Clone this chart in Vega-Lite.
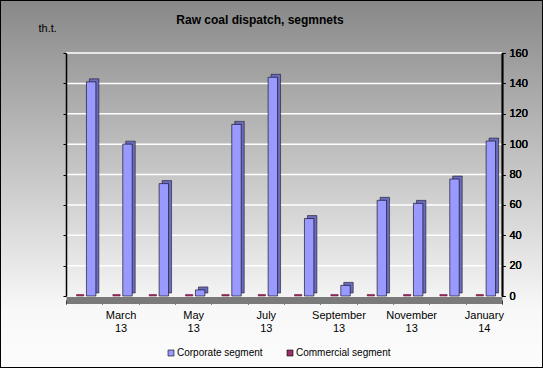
{
  "$schema": "https://vega.github.io/schema/vega-lite/v6.json",
  "width": 436,
  "height": 243,
  "autosize": {"type": "none"},
  "padding": {"left": 66, "top": 53, "right": 41, "bottom": 72},
  "background": "#c8c8c8",
  "config": {
    "font": "Liberation Sans",
    "view": {"stroke": null},
    "axis": {"labelFont": "Liberation Sans", "titleFont": "Liberation Sans", "labelColor": "#000", "titleColor": "#000"},
    "legend": {
      "orient": "none",
      "legendX": 100,
      "legendY": 295,
      "direction": "horizontal",
      "title": null,
      "symbolType": "square",
      "symbolSize": 36,
      "symbolStrokeColor": "#000",
      "symbolStrokeWidth": 0.6,
      "labelFont": "Liberation Sans",
      "labelFontSize": 10,
      "labelColor": "#000",
      "labelOffset": 1,
      "columnPadding": 22
    }
  },
  "title": {
    "text": "Raw coal dispatch, segmnets",
    "font": "Liberation Sans",
    "fontSize": 12,
    "fontWeight": "bold",
    "color": "#000",
    "anchor": "middle",
    "frame": "group",
    "dx": -24,
    "offset": -37,
    "baseline": "alphabetic"
  },
  "datasets": {
    "coal": [
      {"month": "February 13", "segment": "Corporate segment", "value": 141},
      {"month": "March 13", "segment": "Corporate segment", "value": 100},
      {"month": "April 13", "segment": "Corporate segment", "value": 74},
      {"month": "May 13", "segment": "Corporate segment", "value": 4},
      {"month": "June 13", "segment": "Corporate segment", "value": 113},
      {"month": "July 13", "segment": "Corporate segment", "value": 144},
      {"month": "August 13", "segment": "Corporate segment", "value": 51},
      {"month": "September 13", "segment": "Corporate segment", "value": 7},
      {"month": "October 13", "segment": "Corporate segment", "value": 63},
      {"month": "November 13", "segment": "Corporate segment", "value": 61},
      {"month": "December 13", "segment": "Corporate segment", "value": 77},
      {"month": "January 14", "segment": "Corporate segment", "value": 102},
      {"month": "February 13", "segment": "Commercial segment", "value": 1},
      {"month": "March 13", "segment": "Commercial segment", "value": 1},
      {"month": "April 13", "segment": "Commercial segment", "value": 1},
      {"month": "May 13", "segment": "Commercial segment", "value": 1},
      {"month": "June 13", "segment": "Commercial segment", "value": 1},
      {"month": "July 13", "segment": "Commercial segment", "value": 1},
      {"month": "August 13", "segment": "Commercial segment", "value": 1},
      {"month": "September 13", "segment": "Commercial segment", "value": 1},
      {"month": "October 13", "segment": "Commercial segment", "value": 1},
      {"month": "November 13", "segment": "Commercial segment", "value": 1},
      {"month": "December 13", "segment": "Commercial segment", "value": 1},
      {"month": "January 14", "segment": "Commercial segment", "value": 1}
    ],
    "grid": [{"g": 20}, {"g": 40}, {"g": 60}, {"g": 80}, {"g": 100}, {"g": 120}, {"g": 140}, {"g": 160}],
    "bg": [{"lo": 0, "hi": 1}]
  },
  "layer": [
    {
      "data": {"name": "bg"},
      "mark": {
        "type": "rect",
        "stroke": "#000",
        "strokeWidth": 2,
        "color": {
          "gradient": "linear",
          "x1": 0, "y1": 0, "x2": 0, "y2": 1,
          "stops": [
            {"offset": 0, "color": "#888888"},
            {"offset": 0.84, "color": "#f8f8f8"},
            {"offset": 1, "color": "#fcfcfc"}
          ]
        }
      },
      "encoding": {
        "x": {"datum": -0.1514, "type": "quantitative", "scale": {"domain": [0, 1], "nice": false, "zero": false}, "axis": null},
        "x2": {"datum": 1.0941},
        "y": {"datum": 1.2181, "type": "quantitative", "scale": {"domain": [0, 1], "nice": false, "zero": false}, "axis": null},
        "y2": {"datum": -0.2963}
      }
    },
    {
      "layer": [
        {
          "data": {"name": "grid"},
          "mark": {"type": "rule", "color": "#ffffff", "strokeWidth": 1.5},
          "encoding": {
            "y": {
              "field": "g",
              "type": "quantitative",
              "scale": {"domain": [0, 160], "nice": false},
              "axis": {
                "orient": "left",
                "values": [0, 20, 40, 60, 80, 100, 120, 140, 160],
                "labels": false,
                "grid": false,
                "domain": true,
                "domainColor": "#000",
                "domainWidth": 1.5,
                "ticks": true,
                "tickColor": "#000",
                "tickSize": 3,
                "title": "th.t.",
                "titleAngle": 0,
                "titleAlign": "left",
                "titleBaseline": "alphabetic",
                "titleFontSize": 11,
                "titleFontWeight": "normal",
                "titleX": -28,
                "titleY": -22,
                "zindex": 1
              }
            }
          }
        },
        {
          "data": {"name": "coal"},
          "transform": [{"filter": "datum.segment === 'Commercial segment'"}],
          "mark": {"type": "bar", "width": {"band": 0.2}, "xOffset": -4, "stroke": "#66002e", "strokeWidth": 0.5},
          "encoding": {
            "x": {"field": "month", "type": "nominal",
              "scale": {"domain": ["February 13", "March 13", "April 13", "May 13", "June 13", "July 13", "August 13", "September 13", "October 13", "November 13", "December 13", "January 14"], "paddingInner": 0, "paddingOuter": 0},
              "axis": {"orient": "bottom", "title": null, "labelAngle": 0, "labelFontSize": 11, "labelLineHeight": 13, "labelPadding": 5, "labelOverlap": false, "tickBand": "extent", "tickColor": "#000", "tickSize": 4, "domainColor": "#7a7a7a", "domainWidth": 7, "offset": 4, "zindex": 1,
                "labelExpr": "indexof(['March 13','May 13','July 13','September 13','November 13','January 14'], datum.label) >= 0 ? split(datum.label, ' ') : ''"}},
            "y": {"field": "value", "type": "quantitative",
              "axis": {"orient": "right", "values": [0, 20, 40, 60, 80, 100, 120, 140, 160], "grid": false, "title": null, "labelFontSize": 11, "labelPadding": 4, "domainColor": "#000", "domainWidth": 1.5, "tickColor": "#000", "tickSize": 3, "zindex": 1}},
            "color": {"field": "segment", "type": "nominal",
              "scale": {"domain": ["Corporate segment", "Commercial segment"], "range": ["#9999ff", "#993366"]}}
          }
        },
        {
          "data": {"name": "coal"},
          "transform": [{"filter": "datum.segment === 'Corporate segment'"}],
          "mark": {"type": "bar", "width": {"band": 0.26}, "xOffset": 10, "yOffset": -3, "fill": "#6b6bbf", "stroke": "#000", "strokeWidth": 0.5},
          "encoding": {
            "x": {"field": "month", "type": "nominal",
              "axis": {"orient": "bottom", "title": null, "labelAngle": 0, "labelFontSize": 11, "labelLineHeight": 13, "labelPadding": 5, "labelOverlap": false, "tickBand": "extent", "tickColor": "#000", "tickSize": 4, "domainColor": "#7a7a7a", "domainWidth": 7, "offset": 4, "zindex": 1,
                "labelExpr": "indexof(['March 13','May 13','July 13','September 13','November 13','January 14'], datum.label) >= 0 ? split(datum.label, ' ') : ''"}},
            "y": {"field": "value", "type": "quantitative",
              "axis": {"orient": "right", "values": [0, 20, 40, 60, 80, 100, 120, 140, 160], "grid": false, "title": null, "labelFontSize": 11, "labelPadding": 4, "domainColor": "#000", "domainWidth": 1.5, "tickColor": "#000", "tickSize": 3, "zindex": 1}}
          }
        },
        {
          "data": {"name": "coal"},
          "transform": [{"filter": "datum.segment === 'Corporate segment'"}],
          "mark": {"type": "bar", "width": {"band": 0.26}, "xOffset": 7, "stroke": "#000", "strokeWidth": 0.6},
          "encoding": {
            "x": {"field": "month", "type": "nominal",
              "axis": {"orient": "bottom", "title": null, "labelAngle": 0, "labelFontSize": 11, "labelLineHeight": 13, "labelPadding": 5, "labelOverlap": false, "tickBand": "extent", "tickColor": "#000", "tickSize": 4, "domainColor": "#7a7a7a", "domainWidth": 7, "offset": 4, "zindex": 1,
                "labelExpr": "indexof(['March 13','May 13','July 13','September 13','November 13','January 14'], datum.label) >= 0 ? split(datum.label, ' ') : ''"}},
            "y": {"field": "value", "type": "quantitative",
              "axis": {"orient": "right", "values": [0, 20, 40, 60, 80, 100, 120, 140, 160], "grid": false, "title": null, "labelFontSize": 11, "labelPadding": 4, "domainColor": "#000", "domainWidth": 1.5, "tickColor": "#000", "tickSize": 3, "zindex": 1}},
            "color": {"field": "segment", "type": "nominal"}
          }
        }
      ]
    }
  ],
  "resolve": {"scale": {"x": "independent", "y": "independent"}}
}
